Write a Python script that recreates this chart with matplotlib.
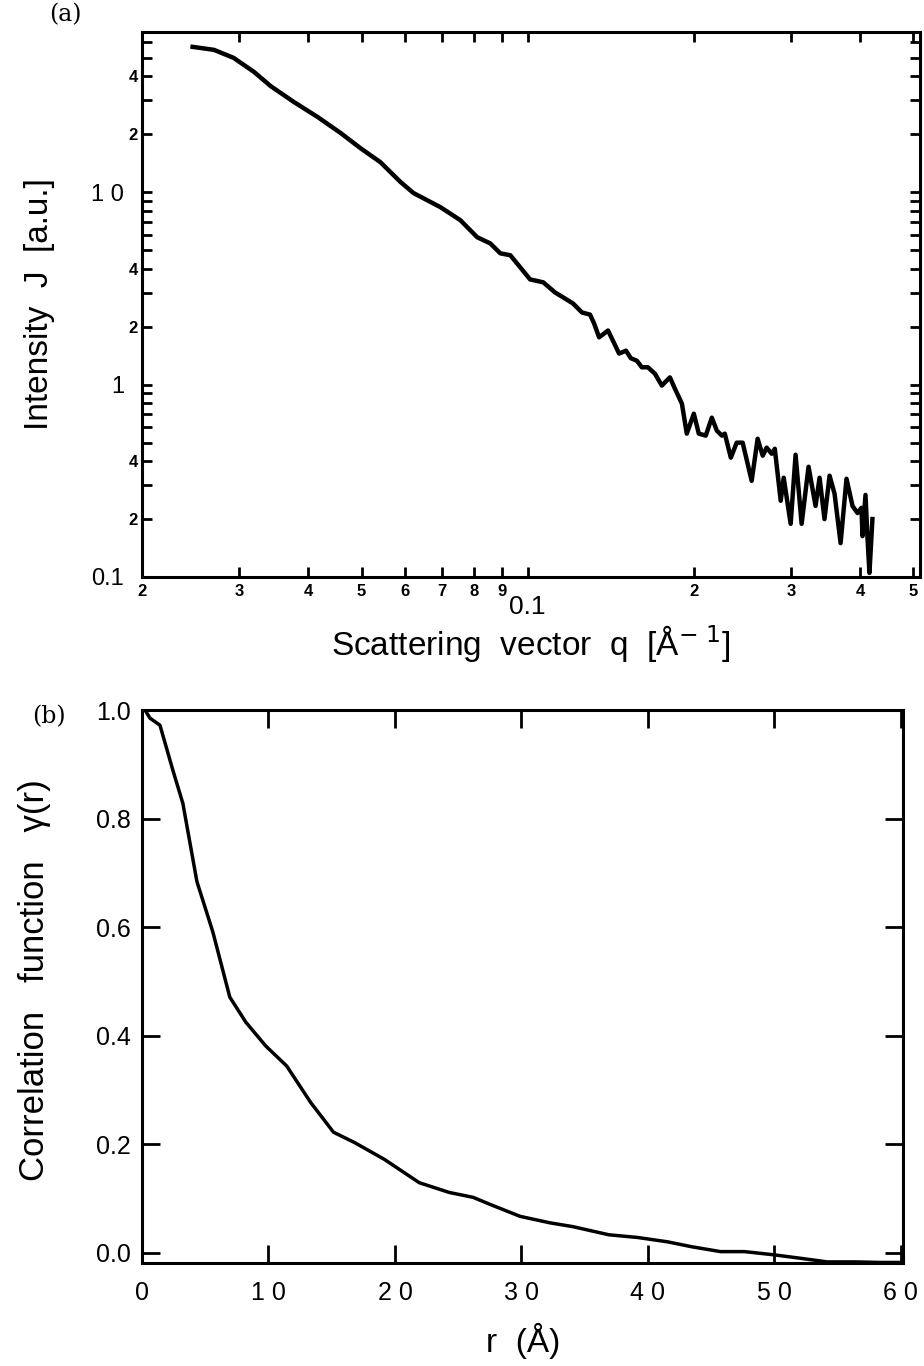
import matplotlib
matplotlib.use("Agg")
import numpy as np
import matplotlib.pyplot as plt

plt.rcParams['font.family'] = ['Liberation Sans', 'DejaVu Sans']

############################
#  DATA
############################

# (a) scattering curve, log-log
q = [0.0247, 0.0270, 0.0293, 0.0319, 0.0342, 0.0377, 0.0416, 0.0458, 0.0498,
     0.0541, 0.0588, 0.0621, 0.0695, 0.0755, 0.0810, 0.0855, 0.0892, 0.0930,
     0.0969, 0.1010, 0.1067, 0.1121, 0.1159, 0.1208, 0.1254, 0.1297, 0.1319,
     0.1347, 0.1398, 0.1433, 0.1464, 0.1507, 0.1538, 0.1577, 0.1610, 0.1651,
     0.1700, 0.1750, 0.1810, 0.1848, 0.1903, 0.1942, 0.2000, 0.2042, 0.2102,
     0.2156, 0.2202, 0.2248, 0.2276, 0.2334, 0.2392, 0.2452, 0.2546, 0.2610,
     0.2666, 0.2710, 0.2768, 0.2804, 0.2874, 0.2910, 0.2996, 0.3058, 0.3136,
     0.3228, 0.3324, 0.3380, 0.3450, 0.3524, 0.3598, 0.3690, 0.3782, 0.3878,
     0.3960, 0.4026, 0.4043, 0.4094, 0.4128, 0.4162, 0.4214]
J = [56.9, 54.9, 49.9, 42.2, 35.6, 29.4, 24.6, 20.3, 16.9,
     14.3, 11.3, 9.89, 8.35, 7.15, 5.83, 5.42, 4.81, 4.70,
     4.07, 3.52, 3.40, 3.01, 2.84, 2.64, 2.37, 2.31, 2.08,
     1.76, 1.91, 1.65, 1.45, 1.50, 1.37, 1.33, 1.23, 1.23,
     1.14, 0.988, 1.09, 0.953, 0.796, 0.556, 0.706, 0.556, 0.543,
     0.673, 0.576, 0.543, 0.556, 0.417, 0.499, 0.499, 0.316, 0.523,
     0.427, 0.470, 0.437, 0.464, 0.249, 0.328, 0.189, 0.432, 0.189,
     0.374, 0.234, 0.328, 0.200, 0.336, 0.271, 0.150, 0.324, 0.234,
     0.215, 0.229, 0.163, 0.267, 0.160, 0.105, 0.200]

q_ticks = [0.02, 0.03, 0.04, 0.05, 0.06, 0.07, 0.08, 0.09, 0.1, 0.2, 0.3, 0.4, 0.5]
q_labels = ['2', '3', '4', '5', '6', '7', '8', '9', '0.1', '2', '3', '4', '5']
J_ticks = [0.1, 0.2, 0.4, 1, 2, 4, 10, 20, 40]
J_labels = ['0.1', '2', '4', '1', '2', '4', '1 0', '2', '4']
J_minor = [0.3, 0.5, 0.6, 0.7, 0.8, 0.9, 3, 5, 6, 7, 8, 9, 30, 50, 60]

# (b) correlation function
r = [0.24, 0.63, 1.42, 2.44, 3.23, 4.34, 5.60, 6.94, 8.20, 9.78, 11.44, 13.33,
     15.14, 16.80, 19.16, 21.92, 24.29, 26.18, 27.52, 29.89, 32.26, 34.07,
     36.91, 39.20, 41.56, 43.45, 45.74, 47.63, 50.0, 52.29, 54.18, 56.47,
     58.36, 60.0]
gamma = [1.0, 0.985, 0.972, 0.889, 0.828, 0.684, 0.591, 0.471, 0.425, 0.381,
         0.344, 0.277, 0.222, 0.203, 0.172, 0.129, 0.111, 0.102, 0.089, 0.067,
         0.055, 0.048, 0.033, 0.028, 0.020, 0.011, 0.002, 0.002, -0.004,
         -0.011, -0.017, -0.017, -0.018, -0.018]

r_ticks = [0, 10, 20, 30, 40, 50, 60]
r_labels = ['0', '1 0', '2 0', '3 0', '4 0', '5 0', '6 0']
g_ticks = [0.0, 0.2, 0.4, 0.6, 0.8, 1.0]
g_labels = ['0.0', '0.2', '0.4', '0.6', '0.8', '1.0']

############################
# PLOT
############################

fig = plt.figure(figsize=(9.24, 13.66), dpi=100)

# ---- (a) ----
ax1 = fig.add_axes([0.1537, 0.5776, 0.8420, 0.3990])
ax1.plot(q, J, color='black', lw=3.2, solid_joinstyle='round')
ax1.set_xscale('log')
ax1.set_yscale('log')
ax1.set_xlim(0.02, 0.514)
ax1.set_ylim(0.1, 68)

ax1.set_xticks(q_ticks)
ax1.set_xticklabels(q_labels)
ax1.set_xticks([], minor=True)
ax1.set_yticks(J_ticks)
ax1.set_yticklabels(J_labels)
ax1.set_yticks(J_minor, minor=True)
ax1.yaxis.set_minor_formatter(matplotlib.ticker.NullFormatter())

ax1.tick_params(which='both', direction='in', top=True, right=True,
                width=2.0, length=7, labelsize=12)
ax1.tick_params(axis='x', pad=5)
ax1.tick_params(axis='y', pad=3)
for lab in ax1.get_xticklabels() + ax1.get_yticklabels():
    lab.set_fontweight('bold')

# bigger labels / longer ticks at 0.1, 1, 10
for tick, val in zip(ax1.xaxis.get_major_ticks(), q_ticks):
    if val == 0.1:
        tick.tick1line.set_markersize(12)
        tick.tick2line.set_markersize(12)
        tick.label1.set_fontsize(19)
        tick.label1.set_fontweight('normal')
        tick.set_pad(13)
for tick, val in zip(ax1.yaxis.get_major_ticks(), J_ticks):
    if val in (0.1, 1, 10):
        tick.tick1line.set_markersize(13)
        tick.tick2line.set_markersize(13)
        tick.label1.set_fontsize(17)
        tick.label1.set_fontweight('normal')
        tick.set_pad(13)

for s in ax1.spines.values():
    s.set_linewidth(2.2)

ax1.set_xlabel('Scattering  vector  q  [Å$^{-\\ 1}$]', fontsize=24)
ax1.xaxis.set_label_coords(0.5, -0.085)
ax1.set_ylabel('Intensity  J  [a.u.]', fontsize=24)
ax1.yaxis.set_label_coords(-0.112, 0.5)
fig.text(0.071, 0.989, '(a)', family='DejaVu Serif', fontsize=17,
         ha='center', va='center')

# ---- (b) ----
ax2 = fig.add_axes([0.1537, 0.0754, 0.8240, 0.4048])
ax2.plot(r, gamma, color='black', lw=2.5, solid_joinstyle='round')
ax2.set_xlim(0, 60.2)
ax2.set_ylim(-0.019, 1.0)
ax2.set_xticks(r_ticks)
ax2.set_xticklabels(r_labels)
ax2.set_yticks(g_ticks)
ax2.set_yticklabels(g_labels)
ax2.tick_params(direction='in', top=True, right=True, width=2.0,
                length=13, labelsize=18, pad=8)
ax2.tick_params(axis='x', pad=13)
for s in ax2.spines.values():
    s.set_linewidth(2.2)

ax2.set_xlabel('r  (Å)', fontsize=24)
ax2.xaxis.set_label_coords(0.5, -0.108)
ax2.set_ylabel('Correlation   function   γ(r)', fontsize=25)
ax2.yaxis.set_label_coords(-0.12, 0.512)
fig.text(0.053, 0.475, '(b)', family='DejaVu Serif', fontsize=17,
         ha='center', va='center')

fig.savefig('out.png', dpi=100)
